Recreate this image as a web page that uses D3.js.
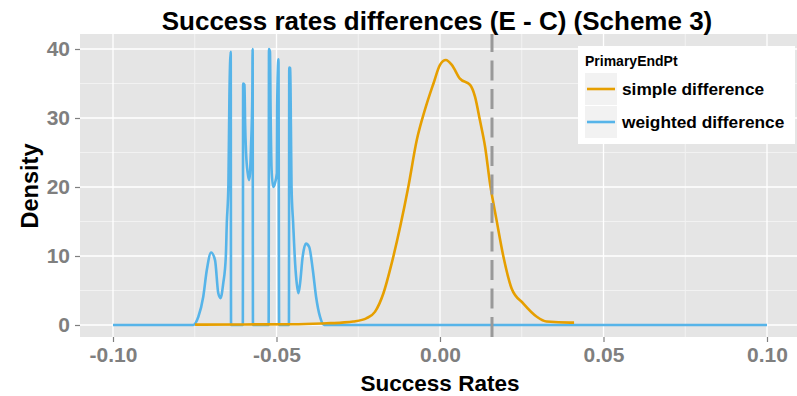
<!DOCTYPE html>
<html><head><meta charset="utf-8">
<script src="https://cdn.jsdelivr.net/npm/d3@7/dist/d3.min.js"></script>
<style>body{margin:0;background:#fff}svg{display:block;font-family:"Liberation Sans",Arial,sans-serif}</style>
</head><body><svg id="c" width="797" height="396"></svg>
<script>
// ---- data ----
const seriesNames = ["simple difference", "weighted difference"];
const seriesColors = ["#E69F00", "#56B4E9"];
const simpleX = [-0.0749,-0.060,-0.045,-0.0347,-0.030,-0.0265,-0.0224,-0.0199,-0.0173,-0.0148,-0.0122,-0.0097,-0.0071,-0.0046,-0.0020,0.0000,0.0018,0.0036,0.0061,0.0092,0.0107,0.0122,0.0138,0.0153,0.0173,0.0194,0.0219,0.0255,0.0296,0.0326,0.0398,0.0410];
const simpleD = [0.05,0.08,0.1,0.25,0.35,0.5,1.0,1.9,4.6,8.9,14.2,20.0,26.8,31.2,35.0,37.7,38.4,37.7,35.7,34.8,33.1,29.7,25.8,20.5,15.2,9.9,5.3,3.1,1.2,0.5,0.35,0.35];
const weightedX = [-0.1000,-0.0755,-0.0739,-0.0724,-0.0713,-0.0700,-0.0688,-0.0678,-0.0671,-0.0663,-0.0655,-0.0652,-0.0647,-0.0644,-0.0640,-0.0639,-0.0603,-0.0602,-0.0598,-0.0596,-0.0593,-0.0588,-0.0584,-0.0581,-0.0578,-0.0574,-0.0573,-0.0572,-0.0524,-0.0523,-0.0520,-0.0518,-0.0515,-0.0510,-0.0505,-0.0499,-0.0498,-0.0494,-0.0492,-0.0462,-0.0461,-0.0458,-0.0456,-0.0454,-0.0449,-0.0443,-0.0438,-0.0433,-0.0428,-0.0420,-0.0410,-0.0400,-0.0389,-0.0379,-0.0367,-0.0357,-0.0349,0.1000];
const weightedD = [0,0,1.2,4.1,8.0,10.5,9.4,4.6,3.9,6.0,9.9,14.7,20.5,33.1,39.6,0,0,35.0,34.8,29.2,24.9,22.0,21.0,22.0,25.8,33.1,40.0,0,0,40.0,39.6,30.7,22.5,20.0,20.5,22.0,31.6,38.5,0,0,37.3,37.2,29.0,20.0,14.7,8.9,6.0,4.6,6.0,9.9,11.8,11.3,8.0,4.1,1.2,0.1,0,0];
const refLine = 0.0159;
const xTicks = [-0.10,-0.05,0.00,0.05,0.10];
const xMinor = [-0.075,-0.025,0.025,0.075];
const yTicks = [0,10,20,30,40];
const yMinor = [5,15,25,35];
const titleText = "Success rates differences (E - C) (Scheme 3)";
const xLabel = "Success Rates", yLabel = "Density", legendTitle = "PrimaryEndPt";

// ---- layout ----
const svg = d3.select("#c");
const P = {l:80, r:797, t:34, b:337};
const x = d3.scaleLinear().domain([-0.1,0.1]).range([113,767]);
const y = d3.scaleLinear().domain([0,40]).range([325,49]);

svg.append("rect").attr("x",P.l).attr("y",P.t).attr("width",P.r-P.l).attr("height",P.b-P.t).attr("fill","#E5E5E5");
const g = svg.append("g");
g.selectAll(".xm").data(xMinor).join("line").attr("x1",d=>x(d)).attr("x2",d=>x(d)).attr("y1",P.t).attr("y2",P.b).attr("stroke","#F2F2F2").attr("stroke-width",1);
g.selectAll(".ym").data(yMinor).join("line").attr("y1",d=>y(d)).attr("y2",d=>y(d)).attr("x1",P.l).attr("x2",P.r).attr("stroke","#F2F2F2").attr("stroke-width",1);
g.selectAll(".xg").data(xTicks).join("line").attr("x1",d=>x(d)).attr("x2",d=>x(d)).attr("y1",P.t).attr("y2",P.b).attr("stroke","#fff").attr("stroke-width",1.3);
g.selectAll(".yg").data(yTicks).join("line").attr("y1",d=>y(d)).attr("y2",d=>y(d)).attr("x1",P.l).attr("x2",P.r).attr("stroke","#fff").attr("stroke-width",1.3);

// axes
const fmt = d => d3.format(".2f")(d).replace("\u2212","-");
const xAxis = svg.append("g").attr("transform",`translate(0,${P.b})`)
  .call(d3.axisBottom(x).tickValues(xTicks).tickFormat(fmt).tickSize(5).tickPadding(4));
const yAxis = svg.append("g").attr("transform",`translate(${P.l},0)`)
  .call(d3.axisLeft(y).tickValues(yTicks).tickSize(5).tickPadding(5));
[xAxis,yAxis].forEach(a=>{
  a.select(".domain").remove();
  a.selectAll(".tick line").attr("stroke","#7F7F7F").attr("stroke-width",1.2);
  a.selectAll(".tick text").attr("fill","#7F7F7F").attr("font-size",21).attr("font-weight","bold").attr("font-family","Liberation Sans, Arial, sans-serif");
});
xAxis.selectAll(".tick text").attr("dy","0.75em");

// lines
const line = d3.line().x(d=>x(d[0])).y(d=>y(d[1])).curve(d3.curveMonotoneX);
svg.append("clipPath").attr("id","cp").append("rect").attr("x",P.l).attr("y",P.t).attr("width",P.r-P.l).attr("height",P.b-P.t);
const lg = svg.append("g").attr("clip-path","url(#cp)");
lg.append("path").datum(weightedX.map((v,i)=>[v,weightedD[i]])).attr("d",line).attr("fill","none").attr("stroke",seriesColors[1]).attr("stroke-width",2.6).attr("stroke-linejoin","round");
lg.append("path").datum(simpleX.map((v,i)=>[v,simpleD[i]])).attr("d",line).attr("fill","none").attr("stroke",seriesColors[0]).attr("stroke-width",2.6).attr("stroke-linejoin","round");
lg.append("line").attr("x1",x(refLine)).attr("x2",x(refLine)).attr("y1",P.b).attr("y2",P.t).attr("stroke","#999").attr("stroke-width",3).attr("stroke-dasharray","20,8.5");

// titles
svg.append("text").attr("x",437).attr("y",30).attr("text-anchor","middle").attr("font-size",26).attr("font-weight","bold").attr("fill","#000").text(titleText);
svg.append("text").attr("x",440).attr("y",391).attr("text-anchor","middle").attr("font-size",22.5).attr("font-weight","bold").attr("fill","#000").text(xLabel);
svg.append("text").attr("transform","translate(38,186) rotate(-90)").attr("text-anchor","middle").attr("font-size",23.5).attr("font-weight","bold").attr("fill","#000").text(yLabel);

// legend
const L = svg.append("g");
L.append("rect").attr("x",578).attr("y",46).attr("width",217).attr("height",98).attr("fill","#fff");
L.append("text").attr("x",585).attr("y",66).attr("font-size",14).attr("font-weight","bold").attr("fill","#000").text(legendTitle);
seriesNames.forEach((n,i)=>{
  const ky = 73 + i*33;
  L.append("rect").attr("x",585).attr("y",ky).attr("width",32).attr("height",32).attr("fill","#F2F2F2");
  L.append("line").attr("x1",587).attr("x2",615).attr("y1",ky+16).attr("y2",ky+16).attr("stroke",seriesColors[i]).attr("stroke-width",2.6);
  L.append("text").attr("x",622).attr("y",ky+16).attr("dy","0.35em").attr("font-size",17.3).attr("font-weight","bold").attr("fill","#000").text(n);
});
</script></body></html>
